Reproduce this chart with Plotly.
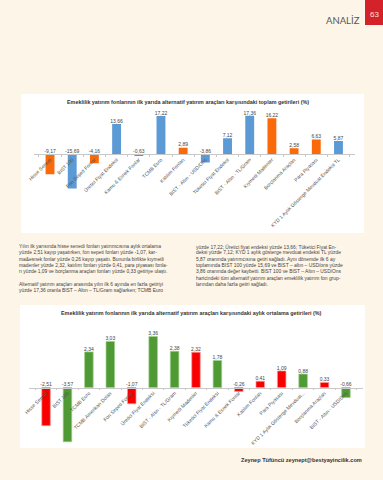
import plotly.graph_objects as go

W, H = 383, 480

# ---------------- data ----------------
top_categories = ["Hisse Senedi", "BIST 100", "Fon Sepeti Fonlar", "Üretici Fiyat Endeksi",
                  "Kamu & Esnek Fonlar", "TCMB Euro", "Katılım Fonları", "BIST - Altın - USD/Ons",
                  "Tüketici Fiyat Endeksi", "BIST - Altın - TL/Gram", "Kıymetli Madenler",
                  "Borçlanma Araçları", "Para Piyasası", "KYD 1 Aylık Gösterge Mevduat Endeksi TL"]
top_values = [-9.17, -15.69, -4.16, 13.66, -0.63, 17.22, 2.89, -3.86, 7.12, 17.36, 16.22, 2.58, 6.63, 5.87]
top_is_fund = [True, False, True, False, True, False, True, False, False, False, True, True, True, False]

bot_categories = ["Hisse Senedi", "BIST 100", "TCMB Euro", "TCMB Amerikan Doları", "Fon Sepeti Fonlar",
                  "Üretici Fiyat Endeksi", "BIST - Altın - TL/Gram", "Kıymetli Madenler",
                  "Tüketici Fiyat Endeksi", "Kamu & Esnek Fonlar", "Katılım Fonları", "Para Piyasası",
                  "KYD 1 Aylık Gösterge Mevduat...", "Borçlanma Araçları", "BIST - Altın - USD/Ons"]
bot_values = [-2.51, -3.57, 2.34, 3.03, -1.07, 3.36, 2.38, 2.32, 1.78, -0.26, 0.41, 1.09, 0.88, 0.33, -0.66]
bot_is_fund = [True, False, False, False, True, False, False, True, False, True, True, True, False, True, False]

top_title = "Emeklilik yatırım fonlarının ilk yarıda alternatif yatırım araçları karşısındaki toplam getirileri (%)"
bot_title = "Emeklilik yatırım fonlarının ilk yarıda alternatif yatırım araçları karşısındaki aylık ortalama getirileri (%)"

left_text = [
    "Yılın ilk yarısında hisse senedi fonları yatırımcısına aylık ortalama",
    "yüzde 2,51 kayıp yaşatırken, fon sepeti fonları yüzde -1,07, kar-",
    "ma&esnek fonlar yüzde 0,26 kayıp yaşattı. Bununla birlikte kıymetli",
    "madenler yüzde 2,32, katılım fonları yüzde 0,41, para piyasası fonla-",
    "rı yüzde 1,09 ve borçlanma araçları fonları yüzde 0,33 getiriye ulaştı.",
    "",
    "Alternatif yatırım araçları arasında yılın ilk 6 ayında en fazla getiriyi",
    "yüzde 17,36 oranla BIST – Altın – TL/Gram sağlarken; TCMB Euro",
]
right_text = [
    "yüzde 17,22; Üretici fiyat endeksi yüzde 13,66; Tüketici Fiyat En-",
    "deksi yüzde 7,12; KYD 1 aylık gösterge mevduat endeksi TL yüzde",
    "5,87 oranında yatırımcısına getiri sağladı. Aynı dönemde ilk 6 ay",
    "toplamında BIST 100 yüzde 15,69 ve BIST – altın – USD/ons yüzde",
    "3,86 oranında değer kaybetti. BIST 100 ve BIST – Altın – USD/Ons",
    "haricindeki tüm alternatif yatırım araçları emeklilik yatırım fon grup-",
    "larından daha fazla getiri sağladı.",
]

FONT = "Liberation Sans, Arial, sans-serif"
BG = "#fcf5e8"

def px(x):
    return x / W

def py(y):
    return 1 - y / H

def fmt(v):
    return f"{v:.2f}".replace(".", ",")

fig = go.Figure()

# ---------------- top chart ----------------
top_colors = ["#fa6a0a" if f else "#5b9ad5" for f in top_is_fund]
fig.add_trace(go.Bar(x=top_categories, y=top_values, marker=dict(color=top_colors, line=dict(width=0)),
                     xaxis="x", yaxis="y", hoverinfo="skip"))
fig.add_trace(go.Scatter(x=top_categories, y=[max(v, 0) for v in top_values], mode="text",
                         text=[fmt(v) for v in top_values], textposition="top center",
                         textfont=dict(size=5, color="#444", family=FONT), cliponaxis=False,
                         xaxis="x", yaxis="y", hoverinfo="skip"))

# ---------------- bottom chart ----------------
bot_colors = ["#f80000" if f else "#4f9a35" for f in bot_is_fund]
bot_lines = ["#ff9a9a" if f else "#9fd08a" for f in bot_is_fund]
fig.add_trace(go.Bar(x=bot_categories, y=bot_values,
                     marker=dict(color=bot_colors, line=dict(width=0.7, color=bot_lines)),
                     xaxis="x2", yaxis="y2", hoverinfo="skip"))
fig.add_trace(go.Scatter(x=bot_categories, y=[max(v, 0) for v in bot_values], mode="text",
                         text=[fmt(v) for v in bot_values], textposition="top center",
                         textfont=dict(size=5, color="#444", family=FONT), cliponaxis=False,
                         xaxis="x2", yaxis="y2", hoverinfo="skip"))

# axis geometry
top_rng = [-20.9, 20.9]
top_dom = [py(200), py(108)]
bot_rng = [-4.11, 4.11]
bot_dom = [py(450), py(325)]

def zero_pos(rng, dom):
    return dom[0] + (0 - rng[0]) / (rng[1] - rng[0]) * (dom[1] - dom[0])

xcommon = dict(type="category", showgrid=False, zeroline=False, showline=True, linecolor="#c8c8c8",
               linewidth=0.8, ticks="outside", ticklen=2, tickcolor="#c8c8c8", tickson="boundaries",
               tickangle=-45, tickfont=dict(size=5, color="#555", family=FONT), anchor="free",
               automargin=False, fixedrange=True)
ycommon = dict(visible=False, showgrid=False, zeroline=False, fixedrange=True)

fig.update_layout(
    xaxis=dict(xcommon, domain=[px(34), px(354.5)], position=zero_pos(top_rng, top_dom)),
    yaxis=dict(ycommon, domain=top_dom, range=top_rng, anchor="x"),
    xaxis2=dict(xcommon, domain=[px(29.4), px(362.6)], position=zero_pos(bot_rng, bot_dom)),
    yaxis2=dict(ycommon, domain=bot_dom, range=bot_rng, anchor="x2"),
    bargap=0.6,
    showlegend=False,
    width=W, height=H,
    margin=dict(l=0, r=0, t=0, b=0),
    paper_bgcolor=BG, plot_bgcolor="rgba(0,0,0,0)",
    font=dict(family=FONT),
)

shapes = [
    # white chart panels
    dict(type="rect", xref="paper", yref="paper", x0=px(21), x1=px(364), y0=py(233), y1=py(94),
         fillcolor="white", line=dict(width=0), layer="below"),
    dict(type="rect", xref="paper", yref="paper", x0=px(20), x1=px(365), y0=py(448), y1=py(305),
         fillcolor="white", line=dict(width=0), layer="below"),
    # page number box
    dict(type="rect", xref="paper", yref="paper", x0=px(365), x1=px(383), y0=py(25), y1=py(0),
         fillcolor="#d3222a", line=dict(width=0), layer="below"),
]

annotations = [
    dict(text="ANALİZ", x=px(362), y=py(21), xanchor="right", yanchor="middle",
         font=dict(size=9.5, color="#555", family="Lato, " + FONT)),
    dict(text="63", x=px(374), y=py(14), xanchor="center", yanchor="middle",
         font=dict(size=8, color="#fbe3d6", family=FONT)),
    dict(text="<b>" + top_title + "</b>", x=px(188), y=py(102), xanchor="center", yanchor="middle",
         font=dict(size=5.4, color="#333", family=FONT)),
    dict(text="<b>" + bot_title + "</b>", x=px(192), y=py(313), xanchor="center", yanchor="middle",
         font=dict(size=5.4, color="#333", family=FONT)),
    dict(text="<b>Zeynep Tüfüncü zeynept@bestyayincilik.com</b>", x=px(364), y=py(460),
         xanchor="right", yanchor="middle", font=dict(size=5.6, color="#333", family=FONT)),
]

for i, line in enumerate(left_text):
    if line:
        annotations.append(dict(text=line, x=px(17), y=py(246.5 + 6.3 * i), xanchor="left", yanchor="middle",
                                font=dict(size=4.9, color="#444", family=FONT)))
for i, line in enumerate(right_text):
    annotations.append(dict(text=line, x=px(194), y=py(246.5 + 6.3 * i), xanchor="left", yanchor="middle",
                            font=dict(size=4.9, color="#444", family=FONT)))

for a in annotations:
    a.update(xref="paper", yref="paper", showarrow=False)

fig.update_layout(shapes=shapes, annotations=annotations)

fig.write_html("out.html", config={"displayModeBar": False},
               post_script="document.body.style.margin='0';document.body.style.overflow='hidden';")
